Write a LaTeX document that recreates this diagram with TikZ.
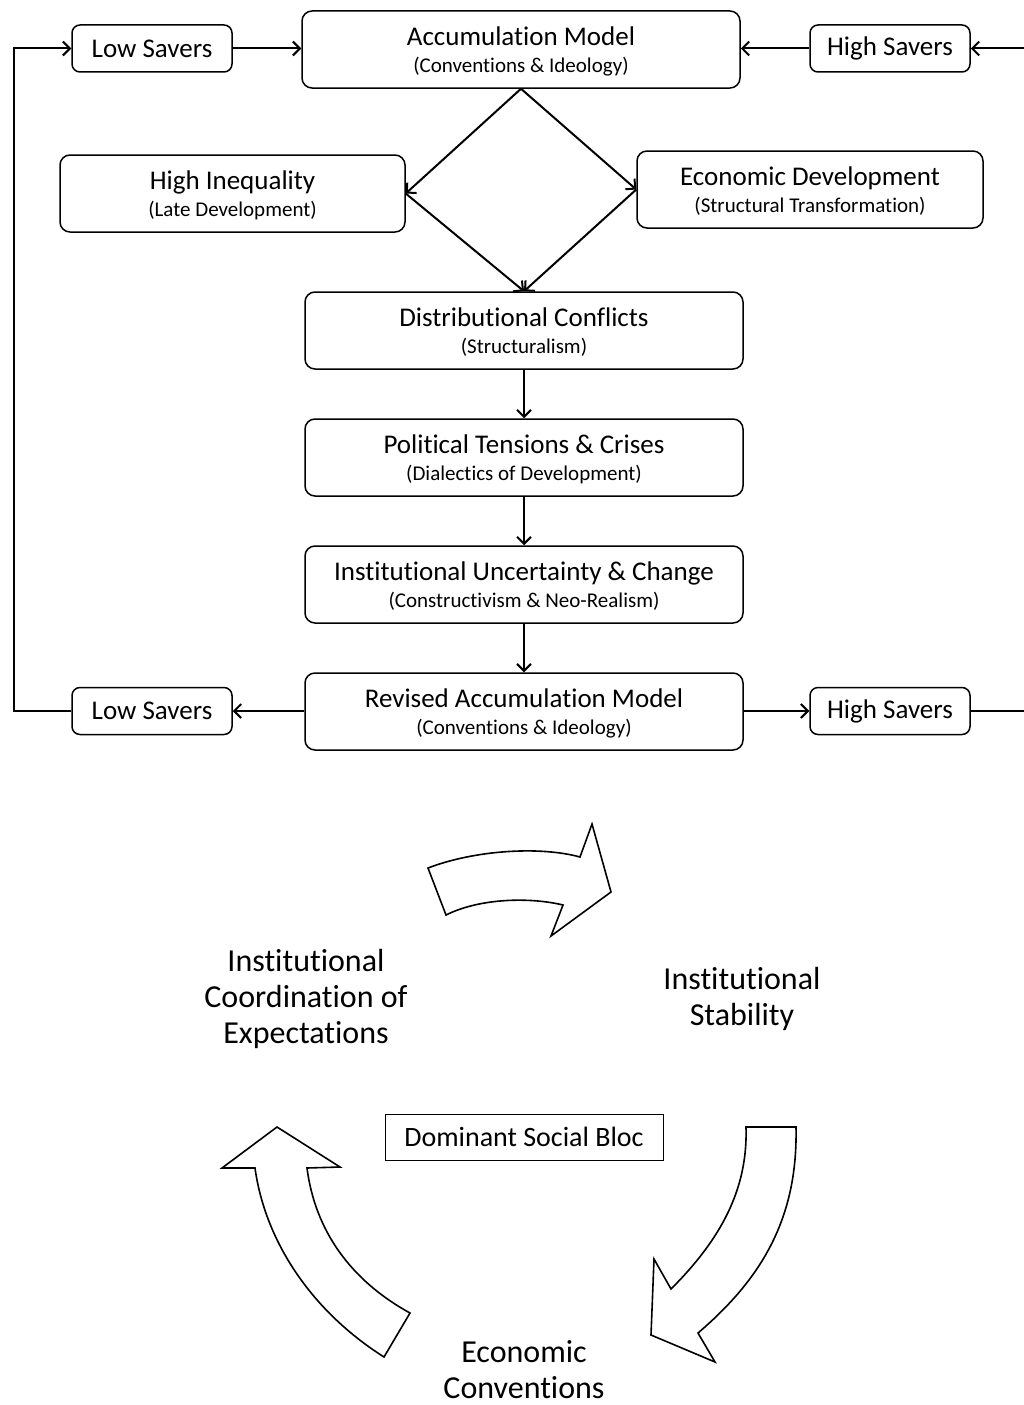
\documentclass[tikz,border=0pt]{standalone}
\usepackage{fontspec}
\setmainfont{Carlito}[Ligatures={NoCommon}]
\usetikzlibrary{arrows.meta}
\begin{document}
\begin{tikzpicture}[x=1pt,y=-1pt,
  box/.style={draw, line width=1.5pt, rounded corners=10pt, minimum width=438pt, minimum height=77pt, align=center, inner sep=0pt, text depth=0pt, font=\fontsize{27}{29}\selectfont},
  sbox/.style={draw, line width=1.5pt, rounded corners=8pt, minimum width=160pt, minimum height=47pt, inner sep=0pt, font=\fontsize{27}{29}\selectfont},
  arr/.style={line width=2pt, -{Straight Barb[length=7pt,width=14pt,line width=2pt]}},
  lin/.style={line width=2pt},
  big/.style={align=center, inner sep=0pt, font=\fontsize{32}{36}\selectfont},
  blockarrow/.style={draw, line width=1.6pt, fill=white, line join=miter}
]
\useasboundingbox (0,0) rectangle (1024,1405);
\fill[white] (0,0) rectangle (1024,1405);

% top row
\node[box] (acc) at (521,49.5) {Accumulation Model\\[-1.5pt]{\fontsize{21}{24}\selectfont (Conventions \& Ideology)}};
\node[sbox] (lsT) at (152,48.5) {Low Savers};
\node[sbox] (hsT) at (890,48.5) {High Savers};

% diamond row
\node[box, minimum width=345pt] (hi) at (232.5,193.5) {High Inequality\\[-1.5pt]{\fontsize{21}{24}\selectfont (Late Development)}};
\node[box, minimum width=346pt] (ed) at (810,189.5) {Economic Development\\[-1.5pt]{\fontsize{21}{24}\selectfont (Structural Transformation)}};

% column
\node[box] (dc) at (524,330.5) {Distributional Conflicts\\[-1.5pt]{\fontsize{21}{24}\selectfont (Structuralism)}};
\node[box] (pt) at (524,457.5) {Political Tensions \& Crises\\[-1.5pt]{\fontsize{21}{24}\selectfont (Dialectics of Development)}};
\node[box] (iu) at (524,584.5) {Institutional Uncertainty \& Change\\[-1.5pt]{\fontsize{21}{24}\selectfont (Constructivism \& Neo-Realism)}};
\node[box] (ram) at (524,711.5) {Revised Accumulation Model\\[-1.5pt]{\fontsize{21}{24}\selectfont (Conventions \& Ideology)}};
\node[sbox] (lsB) at (152,711) {Low Savers};
\node[sbox] (hsB) at (890,711) {High Savers};

% connectors
\coordinate (lb) at (14,711);
\coordinate (lt) at (14,48.5);
\coordinate (rb) at (1040,711);
\coordinate (rt) at (1040,48.5);

\draw[arr] (lsT.east) -- (acc.west |- lsT.east);
\draw[arr] (hsT.west) -- (acc.east |- hsT.west);
\draw[arr] (rb) -- (rt) -- (hsT.east);
\draw[lin] (hsB.east) -- (rb);
\draw[arr] (lsB.west) -- (lb) -- (lt) -- (lsT.west);

\draw[arr] (acc.south) -- (hi.east);
\draw[arr] (acc.south) -- (ed.west);
\draw[arr] (hi.east) -- (dc.north);
\draw[arr] (ed.west) -- (dc.north);

\draw[arr] (dc.south) -- (pt.north);
\draw[arr] (pt.south) -- (iu.north);
\draw[arr] (iu.south) -- (ram.north);
\draw[arr] (ram.west |- lsB.east) -- (lsB.east);
\draw[arr] (ram.east |- hsB.west) -- (hsB.west);

% lower cycle
\node[big] (ice) at (306,999) {Institutional\\Coordination of\\Expectations};
\node[big] (ist) at (742,998.5) {Institutional\\Stability};
\node[big] (eco) at (524,1370) {Economic\\Conventions};
\node[draw, line width=1pt, minimum width=278pt, minimum height=46pt, inner sep=0pt, font=\fontsize{28}{30}\selectfont] (dsb) at (524,1137) {Dominant Social Bloc};

% block arrows
\path[blockarrow] (428,868) .. controls (475,850) and (540,846) .. (580,857)
  -- (592,824) -- (611,892) -- (551,936) -- (563,905)
  .. controls (530,897) and (480,898) .. (446,915) -- cycle;

\path[blockarrow] (277,1127) -- (340,1167) -- (307,1168)
  .. controls (315,1230) and (350,1280) .. (410,1313)
  -- (384,1357)
  .. controls (310,1310) and (265,1240) .. (255,1168)
  -- (222,1168) -- cycle;

\path[blockarrow] (746,1127) -- (796,1127)
  .. controls (798,1220) and (760,1280) .. (698,1333)
  -- (715,1362) -- (651,1335) -- (654,1259) -- (671,1289)
  .. controls (720,1240) and (748,1190) .. (746,1127) -- cycle;
\end{tikzpicture}
\end{document}
